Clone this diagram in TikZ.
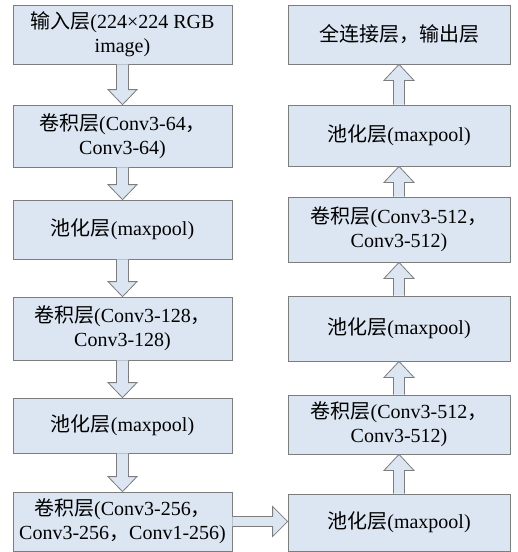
\documentclass[tikz,border=0pt]{standalone}
\usepackage{fontspec}
\setmainfont{Liberation Serif}
\newfontfamily\cjk{Noto Sans CJK SC}
\usetikzlibrary{calc}
\definecolor{boxfill}{RGB}{220,230,242}
\definecolor{edgegray}{RGB}{125,125,125}
\newcommand\blkdown[2]{%
  \filldraw[blk] let \p1=(#1.south), \p2=(#2.north) in
  (\x1-6pt,\y1) -- (\x1-6pt,\y2+15pt) -- (\x1-14.5pt,\y2+15pt) -- (\x1,\y2)
  -- (\x1+14.5pt,\y2+15pt) -- (\x1+6pt,\y2+15pt) -- (\x1+6pt,\y1);}
\newcommand\blkup[2]{%
  \filldraw[blk] let \p1=(#1.north), \p2=(#2.south) in
  (\x1-5.5pt,\y1) -- (\x1-5.5pt,\y2-16pt) -- (\x1-15pt,\y2-16pt) -- (\x1,\y2)
  -- (\x1+15pt,\y2-16pt) -- (\x1+5.5pt,\y2-16pt) -- (\x1+5.5pt,\y1);}
\newcommand\blkright[2]{%
  \filldraw[blk] let \p1=(#1.east), \p2=(#2.west) in
  (\x1,\y1+5pt) -- (\x2-15pt,\y1+5pt) -- (\x2-15pt,\y1+15pt) -- (\x2,\y1)
  -- (\x2-15pt,\y1-15pt) -- (\x2-15pt,\y1-5pt) -- (\x1,\y1-5pt);}
\begin{document}
\begin{tikzpicture}[x=1pt,y=-1pt,
  layer/.style={draw=edgegray, fill=boxfill, line width=0.8pt, inner sep=0pt,
    align=center, font=\fontsize{20}{24}\selectfont},
  lbox/.style={layer, minimum width=219pt},
  rbox/.style={layer, minimum width=222pt},
  blk/.style={draw=edgegray, fill=boxfill, line width=0.8pt, line join=miter}]
\useasboundingbox[fill=white] (0,0) rectangle (518,552);
% left column
\node[lbox, minimum height=59pt] (L1) at (122.5,34.5) {{\cjk 输入层}(224×224 RGB\\image)};
\node[lbox, minimum height=62pt] (L2) at (122.5,136) {{\cjk 卷积层}(Conv3-64{\cjk ，}\\Conv3-64)};
\node[lbox, minimum height=59pt] (L3) at (122.5,229.5) {{\cjk 池化层}(maxpool)};
\node[lbox, minimum height=63pt] (L4) at (122.5,328.5) {{\cjk 卷积层}(Conv3-128{\cjk ，}\\Conv3-128)};
\node[lbox, minimum height=55pt] (L5) at (122.5,425.5) {{\cjk 池化层}(maxpool)};
\node[lbox, minimum height=59pt] (L6) at (122.5,521.5) {{\cjk 卷积层}(Conv3-256{\cjk ，}\\Conv3-256{\cjk ，}Conv1-256)};
% right column
\node[rbox, minimum height=59pt] (R1) at (399,34.5) {{\cjk 全连接层，输出层}};
\node[rbox, minimum height=61pt] (R2) at (399,135.5) {{\cjk 池化层}(maxpool)};
\node[rbox, minimum height=65pt] (R3) at (399,229.5) {{\cjk 卷积层}(Conv3-512{\cjk ，}\\Conv3-512)};
\node[rbox, minimum height=65pt] (R4) at (399,328.5) {{\cjk 池化层}(maxpool)};
\node[rbox, minimum height=59pt] (R5) at (399,424.5) {{\cjk 卷积层}(Conv3-512{\cjk ，}\\Conv3-512)};
\node[rbox, minimum height=57pt] (R6) at (399,522.5) {{\cjk 池化层}(maxpool)};
% arrows
\blkdown{L1}{L2}
\blkdown{L2}{L3}
\blkdown{L3}{L4}
\blkdown{L4}{L5}
\blkdown{L5}{L6}
\blkright{L6}{R6}
\blkup{R6}{R5}
\blkup{R5}{R4}
\blkup{R4}{R3}
\blkup{R3}{R2}
\blkup{R2}{R1}
\end{tikzpicture}
\end{document}
